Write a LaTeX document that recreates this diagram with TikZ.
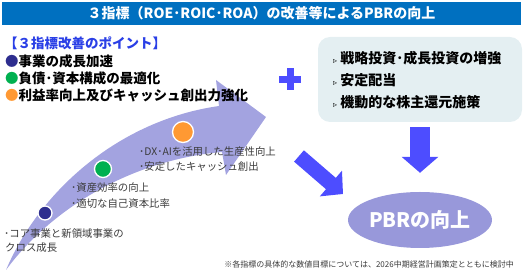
\documentclass[tikz,border=0pt]{standalone}
\usepackage{fontspec}
\setmainfont{Noto Sans CJK JP}
\newfontfamily\symfont{DejaVu Sans}
\usetikzlibrary{arrows.meta, positioning, shapes.geometric, calc}
\definecolor{titleblue}{HTML}{0070C0}
\definecolor{headblue}{HTML}{2A3FE6}
\definecolor{arrowblue}{HTML}{4D4DFF}
\definecolor{lavender}{HTML}{A3A3E0}
\definecolor{ovalfill}{HTML}{9898DA}
\definecolor{panelfill}{HTML}{E4EFF2}
\definecolor{dotnavy}{HTML}{2E2E8F}
\definecolor{dotgreen}{HTML}{00B050}
\definecolor{dotorange}{HTML}{FF9933}
\definecolor{smallgray}{HTML}{3A3A3A}

\begin{document}
\begin{tikzpicture}[x=1pt, y=-1pt,
    every node/.style={inner sep=0pt, anchor=west},
    bar/.style={fill=titleblue, minimum width=519pt, minimum height=23pt, anchor=center, text=white, font=\fontsize{14}{14}\selectfont\bfseries},
    pt/.style={font=\fontsize{13.5}{14}\selectfont\bfseries},
    it/.style={font=\fontsize{14}{14}\selectfont\bfseries},
    sm/.style={font=\fontsize{10.4}{10}\selectfont, text=smallgray},
    panel/.style={fill=panelfill, rounded corners=12pt, minimum width=204pt, minimum height=85pt, anchor=center},
    dot/.style={circle, draw=white, line width=1.3pt, anchor=center},
    blk/.style={draw=arrowblue}
]
\useasboundingbox (0,0) rectangle (523,272);
% title
\node[bar] (title) at (261.5,13.5) {３指標（ROE･ROIC･ROA）の改善等によるPBRの向上};
% growth arrow (behind the texts)
\fill[lavender] (6,270) .. controls (40,190) and (120,120) .. (219,106)
  -- (216,80) -- (266,117) -- (226,175) -- (222,152)
  .. controls (130,160) and (50,210) .. (6,270) -- cycle;
% points
\node[pt, text=headblue] (head) at (4,43) {【３指標改善のポイント】};
\node[pt] (p1) at (5,61) {\textcolor{dotnavy}{●}事業の成長加速};
\node[pt] (p2) at (5,78) {\textcolor{dotgreen}{●}負債･資本構成の最適化};
\node[pt] (p3) at (5,95) {\textcolor{dotorange}{●}利益率向上及びキャッシュ創出力強化};
\node[dot, fill=dotnavy, minimum size=14pt] (d1) at (45,213) {};
\node[dot, fill=dotgreen, minimum size=17pt] (d2) at (103,169) {};
\node[dot, fill=dotorange, minimum size=21pt] (d3) at (183,132) {};
\node[sm] (t1a) at (4,234) {･コア事業と新領域事業の};
\node[sm] (t1b) at (5,248) {クロス成長};
\node[sm] (t2a) at (71,188) {･資産効率の向上};
\node[sm] (t2b) at (71,204) {･適切な自己資本比率};
\node[sm] (t3a) at (139,152) {･DX･AIを活用した生産性向上};
\node[sm] (t3b) at (139,167) {･安定したキャッシュ創出};
% plus
\fill[arrowblue] (279,76) rectangle (301,83);
\fill[arrowblue] (287,68) rectangle (294,90);
% shareholder panel
\node[panel] (strat) at (420,79.5) {};
\node[it] (s1) at (333,58) {{\symfont\fontsize{8}{8}\selectfont ▹}\ 戦略投資･成長投資の増強};
\node[it] (s2) at (333,80) {{\symfont\fontsize{8}{8}\selectfont ▹}\ 安定配当};
\node[it] (s3) at (333,102) {{\symfont\fontsize{8}{8}\selectfont ▹}\ 機動的な株主還元施策};
% goal
\node[ellipse, fill=ovalfill, minimum width=136pt, minimum height=56pt, anchor=center, text=white,
  font=\fontsize{20}{20}\selectfont\bfseries] (pbr) at (420,220) {PBRの向上};
\coordinate (dstart) at (299,156);
\draw[blk, line width=15pt, -{Triangle[width=33pt,length=16pt]}] (dstart) -- ($(pbr.center)+(-77,-26)$);
\draw[blk, line width=20pt, -{Triangle[width=36pt,length=16pt]}] ([yshift=-5pt]strat.south) -- ([yshift=19pt]pbr.north);
% note
\node[font=\fontsize{8}{8}\selectfont, text=smallgray, anchor=east] (note) at (514,264)
  {※各指標の具体的な数値目標については、2026中期経営計画策定とともに検討中};
\end{tikzpicture}
\end{document}
